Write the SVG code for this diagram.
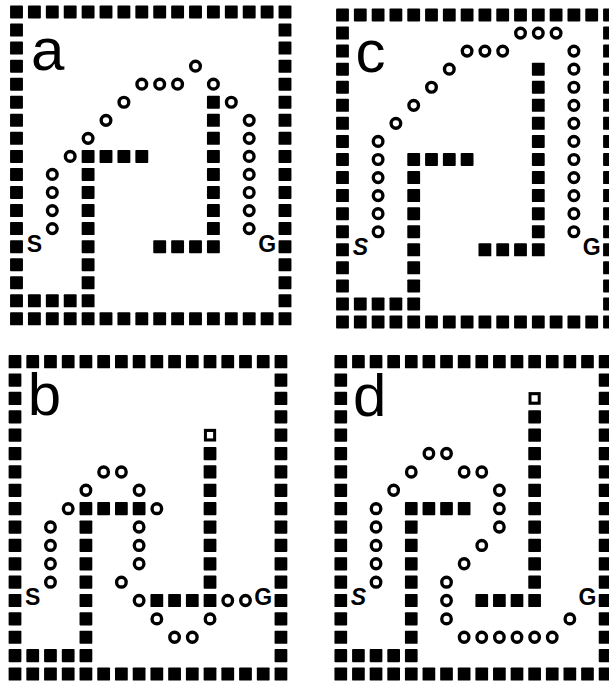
<svg xmlns="http://www.w3.org/2000/svg" xmlns:xlink="http://www.w3.org/1999/xlink" width="609" height="683" viewBox="0 0 609 683">
<style>
.wall{fill:#000}
.path{fill:none;stroke:#000;stroke-width:0.19}
.hol{fill:none;stroke:#000;stroke-width:0.17}
.big{font-family:"Liberation Sans",Arial,sans-serif;font-size:60px;fill:#000}
.sg{font-family:"Liberation Sans",Arial,sans-serif;font-weight:bold;font-size:23px;fill:#000;text-anchor:middle}
.it{font-style:italic}
</style>
<defs>
<rect id="w" class="wall" x="-0.36" y="-0.36" width="0.72" height="0.72" rx="0.05"/>
<circle id="o" class="path" r="0.27"/>
<rect id="h" class="hol" x="-0.26" y="-0.26" width="0.52" height="0.52"/>
<g id="frame">
<use href="#w" x="0" y="0"/><use href="#w" x="1" y="0"/><use href="#w" x="2" y="0"/><use href="#w" x="3" y="0"/><use href="#w" x="4" y="0"/><use href="#w" x="5" y="0"/><use href="#w" x="6" y="0"/><use href="#w" x="7" y="0"/><use href="#w" x="8" y="0"/><use href="#w" x="9" y="0"/><use href="#w" x="10" y="0"/><use href="#w" x="11" y="0"/><use href="#w" x="12" y="0"/><use href="#w" x="13" y="0"/><use href="#w" x="14" y="0"/><use href="#w" x="15" y="0"/>
<use href="#w" x="0" y="17"/><use href="#w" x="1" y="17"/><use href="#w" x="2" y="17"/><use href="#w" x="3" y="17"/><use href="#w" x="4" y="17"/><use href="#w" x="5" y="17"/><use href="#w" x="6" y="17"/><use href="#w" x="7" y="17"/><use href="#w" x="8" y="17"/><use href="#w" x="9" y="17"/><use href="#w" x="10" y="17"/><use href="#w" x="11" y="17"/><use href="#w" x="12" y="17"/><use href="#w" x="13" y="17"/><use href="#w" x="14" y="17"/><use href="#w" x="15" y="17"/>
<use href="#w" x="0" y="1"/><use href="#w" x="0" y="2"/><use href="#w" x="0" y="3"/><use href="#w" x="0" y="4"/><use href="#w" x="0" y="5"/><use href="#w" x="0" y="6"/><use href="#w" x="0" y="7"/><use href="#w" x="0" y="8"/><use href="#w" x="0" y="9"/><use href="#w" x="0" y="10"/><use href="#w" x="0" y="11"/><use href="#w" x="0" y="12"/><use href="#w" x="0" y="13"/><use href="#w" x="0" y="14"/><use href="#w" x="0" y="15"/><use href="#w" x="0" y="16"/>
<use href="#w" x="15" y="1"/><use href="#w" x="15" y="2"/><use href="#w" x="15" y="3"/><use href="#w" x="15" y="4"/><use href="#w" x="15" y="5"/><use href="#w" x="15" y="6"/><use href="#w" x="15" y="7"/><use href="#w" x="15" y="8"/><use href="#w" x="15" y="9"/><use href="#w" x="15" y="10"/><use href="#w" x="15" y="11"/><use href="#w" x="15" y="12"/><use href="#w" x="15" y="13"/><use href="#w" x="15" y="14"/><use href="#w" x="15" y="15"/><use href="#w" x="15" y="16"/>
<use href="#w" x="4" y="8"/><use href="#w" x="5" y="8"/><use href="#w" x="6" y="8"/><use href="#w" x="7" y="8"/>
<use href="#w" x="4" y="9"/><use href="#w" x="4" y="10"/><use href="#w" x="4" y="11"/><use href="#w" x="4" y="12"/><use href="#w" x="4" y="13"/><use href="#w" x="4" y="14"/><use href="#w" x="4" y="15"/><use href="#w" x="4" y="16"/>
<use href="#w" x="1" y="16"/><use href="#w" x="2" y="16"/><use href="#w" x="3" y="16"/>
<use href="#w" x="8" y="13"/><use href="#w" x="9" y="13"/><use href="#w" x="10" y="13"/><use href="#w" x="11" y="13"/>
<use href="#w" x="11" y="5"/><use href="#w" x="11" y="6"/><use href="#w" x="11" y="7"/><use href="#w" x="11" y="8"/><use href="#w" x="11" y="9"/><use href="#w" x="11" y="10"/><use href="#w" x="11" y="11"/><use href="#w" x="11" y="12"/>
</g>
</defs>

<g id="panel-a">
<g transform="translate(16.5 12) scale(17.9 18.05)">
<use href="#frame"/>
<g id="path-a">
<use href="#o" x="2" y="9"/><use href="#o" x="2" y="10"/><use href="#o" x="2" y="11"/><use href="#o" x="2" y="12"/>
<use href="#o" x="3" y="8"/><use href="#o" x="4" y="7"/><use href="#o" x="5" y="6"/><use href="#o" x="6" y="5"/>
<use href="#o" x="7" y="4"/><use href="#o" x="8" y="4"/><use href="#o" x="9" y="4"/><use href="#o" x="10" y="3"/>
<use href="#o" x="11" y="4"/><use href="#o" x="12" y="5"/>
<use href="#o" x="13" y="6"/><use href="#o" x="13" y="7"/><use href="#o" x="13" y="8"/><use href="#o" x="13" y="9"/><use href="#o" x="13" y="10"/><use href="#o" x="13" y="11"/><use href="#o" x="13" y="12"/>
</g>
</g>
<text class="big" x="31" y="70">a</text>
<text class="sg" x="34.4" y="252">S</text>
<text class="sg" x="267.1" y="252">G</text>
</g>

<g id="panel-c">
<g transform="translate(342.5 15) scale(17.8 18.06)">
<use href="#frame"/>
<use href="#w" x="11" y="3"/><use href="#w" x="11" y="4"/>
<g id="path-c">
<use href="#o" x="2" y="7"/><use href="#o" x="2" y="8"/><use href="#o" x="2" y="9"/><use href="#o" x="2" y="10"/><use href="#o" x="2" y="11"/><use href="#o" x="2" y="12"/>
<use href="#o" x="3" y="6"/><use href="#o" x="4" y="5"/><use href="#o" x="5" y="4"/><use href="#o" x="6" y="3"/>
<use href="#o" x="7" y="2"/><use href="#o" x="8" y="2"/><use href="#o" x="9" y="2"/>
<use href="#o" x="10" y="1"/><use href="#o" x="11" y="1"/><use href="#o" x="12" y="1"/>
<use href="#o" x="13" y="2"/><use href="#o" x="13" y="3"/><use href="#o" x="13" y="4"/><use href="#o" x="13" y="5"/><use href="#o" x="13" y="6"/><use href="#o" x="13" y="7"/><use href="#o" x="13" y="8"/><use href="#o" x="13" y="9"/><use href="#o" x="13" y="10"/><use href="#o" x="13" y="11"/><use href="#o" x="13" y="12"/>
</g>
</g>
<text class="big" x="355.5" y="71.5">c</text>
<text class="sg it" x="360.3" y="255">S</text>
<text class="sg" x="591.7" y="255">G</text>
</g>

<g id="panel-b">
<g transform="translate(15 361.7) scale(17.73 18.37)">
<use href="#frame"/>
<use href="#h" x="11" y="4"/>
<g id="path-b">
<use href="#o" x="2" y="9"/><use href="#o" x="2" y="10"/><use href="#o" x="2" y="11"/><use href="#o" x="2" y="12"/>
<use href="#o" x="3" y="8"/><use href="#o" x="4" y="7"/><use href="#o" x="5" y="6"/><use href="#o" x="6" y="6"/>
<use href="#o" x="7" y="7"/><use href="#o" x="8" y="8"/>
<use href="#o" x="7" y="9"/><use href="#o" x="7" y="10"/><use href="#o" x="7" y="11"/>
<use href="#o" x="6" y="12"/><use href="#o" x="7" y="13"/><use href="#o" x="8" y="14"/>
<use href="#o" x="9" y="15"/><use href="#o" x="10" y="15"/><use href="#o" x="11" y="14"/>
<use href="#o" x="12" y="13"/><use href="#o" x="13" y="13"/>
</g>
</g>
<text class="big" x="27.7" y="414.5">b</text>
<text class="sg" x="32.7" y="605">S</text>
<text class="sg" x="263.2" y="605">G</text>
</g>

<g id="panel-d">
<g transform="translate(340.8 361.7) scale(17.62 18.37)">
<use href="#frame"/>
<use href="#h" x="11" y="2"/><use href="#w" x="11" y="3"/><use href="#w" x="11" y="4"/>
<g id="path-d">
<use href="#o" x="2" y="8"/><use href="#o" x="2" y="9"/><use href="#o" x="2" y="10"/><use href="#o" x="2" y="11"/><use href="#o" x="2" y="12"/>
<use href="#o" x="3" y="7"/><use href="#o" x="4" y="6"/><use href="#o" x="5" y="5"/><use href="#o" x="6" y="5"/>
<use href="#o" x="7" y="6"/><use href="#o" x="8" y="6"/>
<use href="#o" x="9" y="7"/><use href="#o" x="9" y="8"/><use href="#o" x="9" y="9"/>
<use href="#o" x="8" y="10"/><use href="#o" x="7" y="11"/>
<use href="#o" x="6" y="12"/><use href="#o" x="6" y="13"/><use href="#o" x="6" y="14"/>
<use href="#o" x="7" y="15"/><use href="#o" x="8" y="15"/><use href="#o" x="9" y="15"/><use href="#o" x="10" y="15"/><use href="#o" x="11" y="15"/><use href="#o" x="12" y="15"/>
<use href="#o" x="13" y="14"/>
</g>
</g>
<text class="big" x="353" y="416">d</text>
<text class="sg it" x="358.4" y="605">S</text>
<text class="sg" x="587.5" y="605">G</text>
</g>

<g id="connectors"/>
</svg>
